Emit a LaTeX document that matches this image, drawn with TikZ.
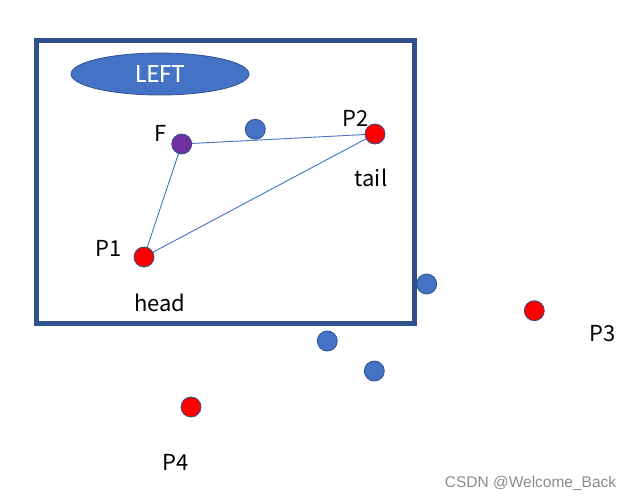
\documentclass[tikz,border=0pt]{standalone}
\usepackage{fontspec}
\setmainfont{Carlito}
\newfontfamily\lblfont{Noto Sans CJK SC}
\newfontfamily\wmfont{Liberation Sans}
\usetikzlibrary{shapes.geometric}
\definecolor{accblue}{HTML}{4472C4}
\definecolor{darkblue}{HTML}{2F528F}
\definecolor{ptred}{HTML}{FF0000}
\definecolor{ptpurple}{HTML}{7030A0}
\begin{document}
\begin{tikzpicture}[x=1pt,y=-1pt,
  dot/.style={circle,draw=darkblue,line width=0.8pt,minimum size=20pt,inner sep=0pt},
  bluedot/.style={dot,fill=accblue},
  reddot/.style={dot,fill=ptred},
  purpledot/.style={dot,fill=ptpurple},
  lbl/.style={inner sep=0pt,anchor=base,font=\lblfont\fontsize{22}{26}\selectfont},
  link/.style={draw=accblue,line width=0.9pt}]
\useasboundingbox (0,0) rectangle (634,501);
\node[draw=darkblue,line width=5pt,minimum width=378pt,minimum height=283pt,inner sep=0pt] (frame) at (225.5,182) {};
\node[ellipse,draw=darkblue,fill=accblue,line width=0.8pt,minimum width=178pt,minimum height=42pt,inner sep=0pt,text=white,font=\fontsize{26.5}{30}\selectfont] (left) at (160,74) {LEFT};
\coordinate (cF) at (181.7,144);
\coordinate (cP1) at (144,257);
\coordinate (cP2) at (375,134);
\draw[link] (cF) -- (cP2);
\draw[link] (cF) -- (cP1);
\draw[link] (cP1) -- (cP2);
\node[purpledot] (F) at (cF) {};
\node[reddot] (P1) at (cP1) {};
\node[reddot] (P2) at (cP2) {};
\node[reddot] (P3) at (534.3,310.7) {};
\node[reddot] (P4) at (191,407) {};
\node[bluedot] (b1) at (255.3,129.3) {};
\node[bluedot] (b2) at (426.7,284) {};
\node[bluedot] (b3) at (327.3,341) {};
\node[bluedot] (b4) at (374.3,371) {};
\node[lbl] (lF) at (161,141) {F};
\node[lbl] (lP2) at (355.5,126.7) {P2};
\node[lbl] (ltail) at (371,186) {tail};
\node[lbl] (lP1) at (109,256.7) {P1};
\node[lbl] (lhead) at (160,311.7) {head};
\node[lbl] (lP3) at (603,341) {P3};
\node[lbl] (lP4) at (176,470) {P4};
\node[inner sep=0pt,anchor=base,text=black!45,font=\wmfont\fontsize{15.5}{18}\selectfont] (wm) at (530.5,487) {CSDN @Welcome\_Back};
\end{tikzpicture}
\end{document}
